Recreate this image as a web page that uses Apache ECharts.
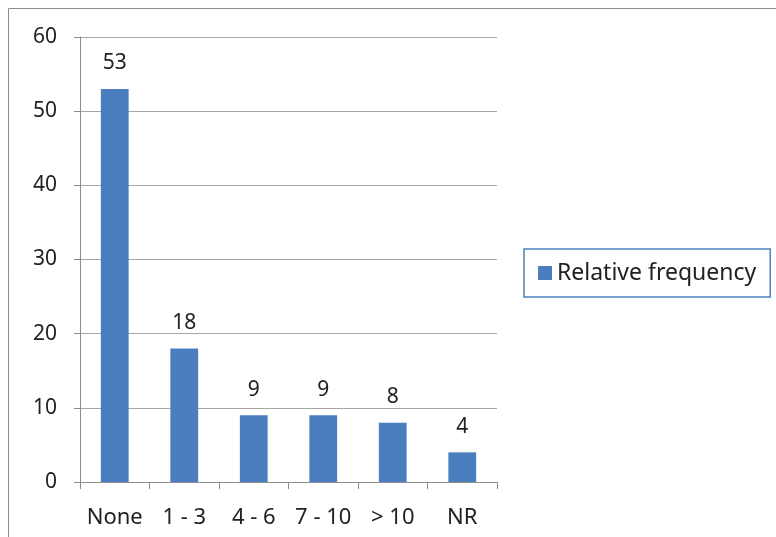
<!DOCTYPE html>
<html>
<head>
<meta charset="utf-8">
<script src="https://cdn.jsdelivr.net/npm/echarts@6/dist/echarts.min.js"></script>
<style>html,body{margin:0;padding:0;background:#fff;}#c{width:776px;height:537px;}</style>
</head>
<body>
<div id="c"></div>
<script>
const categories = ['None', '1 - 3', '4 - 6', '7 - 10', '> 10', 'NR'];
const relativeFrequency = [53, 18, 9, 9, 8, 4];
const yTicks = [0, 10, 20, 30, 40, 50, 60];

const FONT = '"Noto Sans", "Open Sans", sans-serif';
const chart = echarts.init(document.getElementById('c'), null, {renderer: 'canvas'});
chart.setOption({
  animation: false,
  graphic: [{
    type: 'rect',
    shape: {x: 8.5, y: 8.5, width: 1000, height: 1000},
    style: {fill: 'none', stroke: '#8c8c8c', lineWidth: 1},
    silent: true
  }],
  grid: {left: 80, right: 279, top: 37, bottom: 55, containLabel: false},
  legend: {
    left: 524, top: 249,
    orient: 'vertical',
    borderColor: '#4f81bd', borderWidth: 1.5,
    padding: [12, 14, 12, 14],
    itemWidth: 14, itemHeight: 14, itemGap: 6,
    icon: 'rect',
    textStyle: {fontFamily: FONT, fontSize: 23, color: '#222', lineHeight: 24},
    data: ['Relative frequency']
  },
  xAxis: {
    type: 'category',
    data: categories,
    axisLine: {lineStyle: {color: '#8c8c8c', width: 1}},
    axisTick: {show: true, length: 7, lineStyle: {color: '#8c8c8c'}},
    axisLabel: {fontFamily: FONT, fontSize: 22, color: '#222', margin: 25, interval: 0}
  },
  yAxis: {
    type: 'value',
    min: yTicks[0], max: yTicks[yTicks.length - 1], interval: 10,
    axisLine: {show: true, lineStyle: {color: '#8c8c8c', width: 1}},
    axisTick: {show: true, length: 6, lineStyle: {color: '#8c8c8c'}},
    splitLine: {lineStyle: {color: '#a6a6a6', width: 1}},
    axisLabel: {fontFamily: FONT, fontSize: 21, color: '#222', margin: 23}
  },
  series: [{
    name: 'Relative frequency',
    type: 'bar',
    data: relativeFrequency,
    barWidth: '40%',
    itemStyle: {color: '#4a7ebf'},
    label: {show: true, position: 'top', distance: 15, fontFamily: FONT, fontSize: 21, color: '#222'}
  }]
});
</script>
</body>
</html>
